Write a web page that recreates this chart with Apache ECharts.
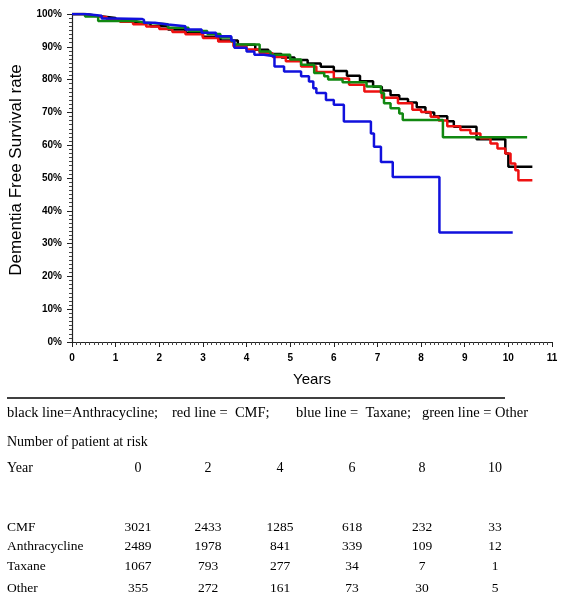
<!DOCTYPE html>
<html><head><meta charset="utf-8">
<script src="https://cdn.jsdelivr.net/npm/echarts@6/dist/echarts.min.js"></script>
<style>html,body{margin:0;padding:0;background:#fff}#c{width:577px;height:600px}</style>
</head><body><div id="c"></div>
<script>
// ---- data: [years, survival %] (Kaplan-Meier steps) ----
const anthracycline = [[0,100],[0.3,99.4],[0.6,98.8],[1.0,98.0],[1.4,97.2],[1.8,96.3],[2.2,95.3],[2.6,94.3],[3.0,93.1],[3.4,91.9],[3.8,90.6],[4.2,89.1],[4.5,87.8],[4.8,86.7],[5.1,86.0],[5.4,84.9],[5.7,83.9],[6.0,82.6],[6.3,81.2],[6.6,79.5],[6.9,77.8],[7.1,76.7],[7.3,75.2],[7.5,74.1],[7.7,73.0],[7.9,71.6],[8.1,70.0],[8.3,68.8],[8.6,67.3],[8.75,65.6],[9.27,61.8],[9.93,57.5],[10.0,53.4],[10.55,53.4]];
const cmf = [[0,100],[0.25,99.5],[0.5,99.0],[0.8,98.3],[1.1,97.6],[1.4,96.9],[1.7,96.2],[2.0,95.4],[2.3,94.5],[2.6,93.8],[3.0,92.7],[3.35,91.6],[3.7,90.2],[4.0,89.2],[4.3,88.0],[4.6,86.9],[4.9,85.6],[5.25,84.0],[5.6,82.3],[6.0,80.3],[6.35,78.4],[6.7,76.4],[7.1,74.5],[7.47,72.8],[7.8,70.8],[8.0,70.1],[8.22,68.7],[8.4,67.5],[8.6,65.8],[8.9,64.6],[9.13,63.6],[9.36,62.1],[9.59,60.5],[9.75,59.0],[9.93,57.5],[10.05,54.4],[10.16,52.4],[10.23,49.3],[10.55,49.3]];
const taxane = [[0,100],[0.3,99.5],[0.68,98.6],[1.0,98.5],[1.6,98.2],[1.65,97.3],[1.9,96.8],[2.2,96.3],[2.6,95.3],[2.97,94.3],[3.3,93.2],[3.65,91.9],[3.72,89.7],[4.0,88.6],[4.18,87.6],[4.4,87.1],[4.64,84.0],[4.86,82.5],[5.25,81.0],[5.43,79.4],[5.53,77.4],[5.6,75.9],[5.82,73.8],[6.0,72.3],[6.23,67.2],[6.85,63.6],[6.92,59.5],[7.08,54.9],[7.35,50.3],[8.42,33.4],[10.1,33.4]];
const other = [[0,100],[0.3,99.2],[0.6,97.9],[1.45,97.3],[1.7,96.9],[2.2,95.8],[2.67,94.8],[3.1,93.9],[3.4,92.8],[3.65,91.7],[3.72,90.7],[4.3,88.6],[4.55,87.6],[5.0,86.1],[5.25,84.5],[5.55,82.0],[5.78,81.0],[5.87,80.0],[6.2,79.2],[6.75,77.9],[7.08,75.9],[7.15,72.8],[7.3,71.3],[7.5,69.7],[7.58,67.7],[8.5,62.4],[10.43,62.4]];

// ---- legend text and at-risk table ----
const legendParts = ['black line=Anthracycline;', 'red line =  CMF;', 'blue line =  Taxane;', 'green line = Other'];
const riskTitle = 'Number of patient at risk';
const riskYears = [0,2,4,6,8,10];
const riskGroups = ['CMF','Anthracycline','Taxane','Other'];
const riskCMF = [3021,2433,1285,618,232,33];
const riskAnthracycline = [2489,1978,841,339,109,12];
const riskTaxane = [1067,793,277,34,7,1];
const riskOther = [355,272,161,73,30,5];
const riskRows = [riskCMF, riskAnthracycline, riskTaxane, riskOther];

// ---- layout ----
const legendX = [7,172,296,422];
const colX = [138,208,280,352,422,495];
const rowY = [527,546,566,588];
const serif = '"Liberation Serif","Times New Roman",serif';
const sans = '"Liberation Sans",Arial,sans-serif';

const graphic = [
  {type:'line', shape:{x1:7,y1:398,x2:505,y2:398}, style:{stroke:'#000',lineWidth:1.5}},
  {type:'text', x:7, y:442, style:{text:riskTitle, font:'14px '+serif, fill:'#000', textVerticalAlign:'middle'}},
  {type:'text', x:7, y:468, style:{text:'Year', font:'14px '+serif, fill:'#000', textVerticalAlign:'middle'}}
];
legendParts.forEach((t,i)=>graphic.push({type:'text', x:legendX[i], y:413, style:{text:t, font:'14.5px '+serif, fill:'#000', textVerticalAlign:'middle'}}));
riskYears.forEach((yv,i)=>graphic.push({type:'text', x:colX[i], y:468, style:{text:String(yv), font:'14px '+serif, fill:'#000', textAlign:'center', textVerticalAlign:'middle'}}));
riskGroups.forEach((g,r)=>{
  graphic.push({type:'text', x:7, y:rowY[r], style:{text:g, font:'13.5px '+serif, fill:'#000', textVerticalAlign:'middle'}});
  riskRows[r].forEach((v,i)=>graphic.push({type:'text', x:colX[i], y:rowY[r], style:{text:String(v), font:'13.5px '+serif, fill:'#000', textAlign:'center', textVerticalAlign:'middle'}}));
});

const chart = echarts.init(document.getElementById('c'), null, {renderer:'canvas'});
const mk = (name, data, color) => ({name, type:'line', step:'end', data, showSymbol:false, symbol:'none', lineStyle:{color, width:2.5}, itemStyle:{color}, animation:false});
chart.setOption({
  backgroundColor:'#fff',
  animation:false,
  grid:{left:69, right:25, top:14, height:328},
  xAxis:{type:'value', min:0, max:11, interval:1,
    name:'Years', nameLocation:'middle', nameGap:30, nameTextStyle:{fontFamily:sans, fontSize:15, color:'#000'},
    axisLine:{lineStyle:{color:'#222', width:1.2}},
    axisTick:{length:5, lineStyle:{color:'#222'}},
    minorTick:{show:true, splitNumber:10, length:3, lineStyle:{color:'#444'}},
    axisLabel:{fontFamily:sans, fontSize:10, fontWeight:'bold', color:'#000', margin:11},
    splitLine:{show:false}},
  yAxis:{type:'value', min:0, max:100, interval:10,
    name:'Dementia Free Survival rate', nameLocation:'middle', nameRotate:90, nameGap:47,
    nameTextStyle:{fontFamily:sans, fontSize:17, color:'#000', padding:[0,0,0,16]},
    axisLine:{show:true, lineStyle:{color:'#222', width:1.2}},
    axisTick:{show:true, length:5, lineStyle:{color:'#222'}},
    minorTick:{show:true, splitNumber:8, length:3, lineStyle:{color:'#444'}},
    axisLabel:{fontFamily:sans, fontSize:10, fontWeight:'bold', color:'#000', margin:10, formatter:'{value}%'},
    splitLine:{show:false}},
  series:[
    mk('Anthracycline', anthracycline, '#000000'),
    mk('CMF', cmf, '#ee1111'),
    mk('Other', other, '#118811'),
    mk('Taxane', taxane, '#1111dd')
  ],
  graphic
});
</script></body></html>
